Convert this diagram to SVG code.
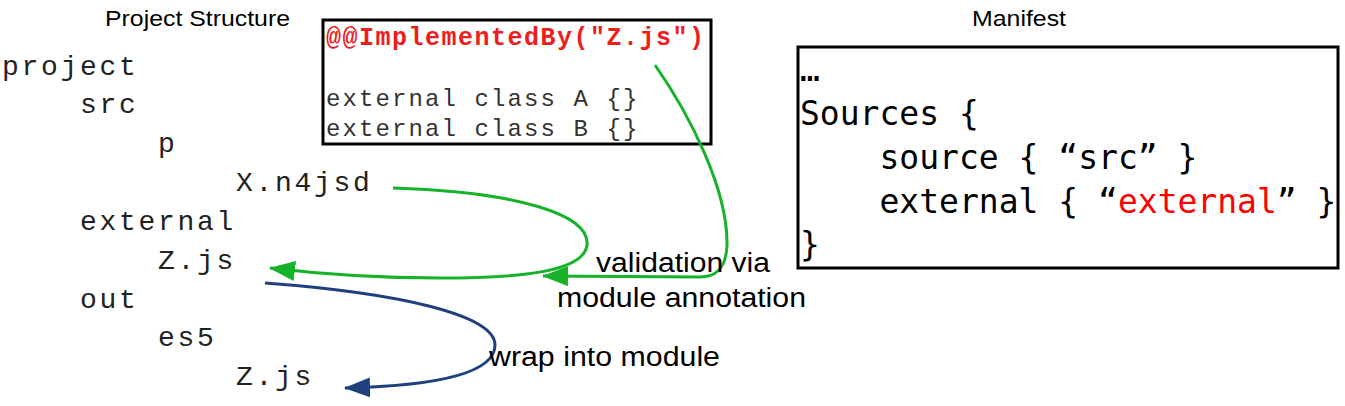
<svg xmlns="http://www.w3.org/2000/svg" width="1345" height="406" viewBox="0 0 1345 406">
<style>
.title{font-family:"Liberation Sans",Arial,sans-serif;font-size:22px;fill:#000}
.tree{font-family:"Liberation Mono","Courier New",monospace;font-size:28px;letter-spacing:2.7px;fill:#222}
.ann{font-family:"Liberation Mono","Courier New",monospace;font-size:25px;letter-spacing:1.5px;font-weight:bold;fill:#ee1c1c}
.code{font-family:"Liberation Mono","Courier New",monospace;font-size:24px;letter-spacing:2.1px;fill:#333}
.man{font-family:"DejaVu Sans Mono",monospace;font-size:33px;fill:#000}
.red{fill:#ff0000}
.lbl{font-family:"Liberation Sans",Arial,sans-serif;font-size:27px;fill:#000}
.box{fill:#fff;stroke:#000;stroke-width:3}
.g{fill:none;stroke:#16b22a;stroke-width:3}
.b{fill:none;stroke:#1f3f7f;stroke-width:3}
</style>
<defs>
<marker id="ag" viewBox="0 0 26 20" refX="25" refY="10" markerWidth="26" markerHeight="20" markerUnits="userSpaceOnUse" orient="auto"><path d="M0,0 L26,10 L0,20 z" fill="#16b22a"/></marker>
<marker id="ab" viewBox="0 0 26 20" refX="25" refY="10" markerWidth="26" markerHeight="20" markerUnits="userSpaceOnUse" orient="auto"><path d="M0,0 L26,10 L0,20 z" fill="#1f3f7f"/></marker>
</defs>
<rect width="1345" height="406" fill="#fff"/>
<g id="project-structure-title"><text class="title" x="105" y="26" textLength="185" lengthAdjust="spacingAndGlyphs">Project Structure</text></g>
<g id="tree-project"><text class="tree" x="2" y="75">project</text></g>
<g id="tree-src"><text class="tree" x="80" y="113">src</text></g>
<g id="tree-p"><text class="tree" x="158" y="152">p</text></g>
<g id="tree-xn4jsd"><text class="tree" x="236" y="191">X.n4jsd</text></g>
<g id="tree-external"><text class="tree" x="80" y="230">external</text></g>
<g id="tree-zjs-ext"><text class="tree" x="158" y="269">Z.js</text></g>
<g id="tree-out"><text class="tree" x="80" y="308">out</text></g>
<g id="tree-es5"><text class="tree" x="158" y="346">es5</text></g>
<g id="tree-zjs-out"><text class="tree" x="236" y="385">Z.js</text></g>
<g id="annotation">
<rect class="box" x="323" y="20" width="388" height="124"/>
<text class="ann" x="326" y="45">@@ImplementedBy("Z.js")</text>
<text class="code" x="326" y="106">external class A {}</text>
<text class="code" x="326" y="136">external class B {}</text>
</g>
<g id="manifest-title"><text class="title" x="972" y="26" textLength="94" lengthAdjust="spacingAndGlyphs">Manifest</text></g>
<g id="manifest">
<rect class="box" x="798" y="47" width="540" height="221"/>
<text class="man" x="800" y="81" font-size="24">…</text>
<text class="man" x="800" y="125">Sources {</text>
<text class="man" x="800" y="169" xml:space="preserve">    source { “src” }</text>
<text class="man" x="800" y="213" xml:space="preserve">    external { “<tspan class="red">external</tspan>” }</text>
<text class="man" x="800" y="256">}</text>
</g>
<g id="connectors">
<path class="g" d="M393,188 C520,192 590,215 587,245 C584,272 520,278 440,278 C380,278 320,274 270,268" marker-end="url(#ag)"/>
<path class="g" d="M655,65 C690,115 728,190 727,245 C726,270 715,277 700,277 L543,276" marker-end="url(#ag)"/>
<path class="b" d="M265,283 C400,293 495,315 495,345 C495,375 430,386 345,388" marker-end="url(#ab)"/>
</g>
<g id="labels">
<text class="lbl" x="596" y="272" textLength="174" lengthAdjust="spacingAndGlyphs">validation via</text>
<text class="lbl" x="557" y="307" textLength="249" lengthAdjust="spacingAndGlyphs">module annotation</text>
<text class="lbl" x="489" y="366" textLength="231" lengthAdjust="spacingAndGlyphs">wrap into module</text>
</g>
</svg>
